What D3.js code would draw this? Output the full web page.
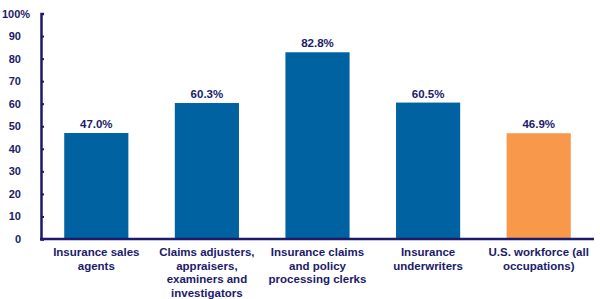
<!DOCTYPE html>
<html>
<head>
<meta charset="utf-8">
<script src="https://cdn.jsdelivr.net/npm/d3@7"></script>
<style>
  body { margin: 0; background: #fff; }
  text { font-family: "Liberation Sans", Arial, sans-serif; font-weight: bold; fill: #1b1a6b; }
</style>
</head>
<body>
<svg id="chart" width="600" height="299"></svg>
<script>
// 資料
const categories = [
  ["Insurance sales", "agents"],
  ["Claims adjusters,", "appraisers,", "examiners and", "investigators"],
  ["Insurance claims", "and policy", "processing clerks"],
  ["Insurance", "underwriters"],
  ["U.S. workforce (all", "occupations)"]
];
const values = [47.0, 60.3, 82.8, 60.5, 46.9];
const barColors = ["#0062a1", "#0062a1", "#0062a1", "#0062a1", "#f7984a"];
const yTicks = [0, 10, 20, 30, 40, 50, 60, 70, 80, 90, 100];

const svg = d3.select("#chart");
const navy = "#1b1a6b";

const x = d3.scaleBand()
  .domain(d3.range(values.length))
  .range([41, 594])
  .paddingInner(0.42)
  .paddingOuter(0.21);

const y = d3.scaleLinear().domain([0, 100]).range([239, 13.5]);

// 長條
svg.selectAll("rect.bar")
  .data(values)
  .enter()
  .append("rect")
  .attr("class", "bar")
  .attr("x", (d, i) => x(i))
  .attr("y", d => y(d))
  .attr("width", x.bandwidth())
  .attr("height", d => y(0) - y(d))
  .attr("fill", (d, i) => barColors[i]);

// 數值標籤
svg.selectAll("text.val")
  .data(values)
  .enter()
  .append("text")
  .attr("class", "val")
  .attr("x", (d, i) => x(i) + x.bandwidth() / 2)
  .attr("y", d => y(d) - 5)
  .attr("text-anchor", "middle")
  .style("font-size", "11.5px")
  .text(d => d.toFixed(1) + "%");

// Y 軸
const yAxis = d3.axisLeft(y)
  .tickValues(yTicks)
  .tickSize(-3)
  .tickPadding(20)
  .tickFormat(d => d);

const gy = svg.append("g")
  .attr("transform", "translate(41,0)")
  .call(yAxis);
gy.select(".domain").attr("stroke", navy).attr("stroke-width", 2.5);
gy.selectAll(".tick line").attr("stroke", navy).attr("stroke-width", 2);
gy.selectAll(".tick text")
  .style("font-size", "11px")
  .attr("fill", navy);
gy.selectAll(".tick")
  .filter(d => d === 100)
  .select("text")
  .append("tspan")
  .text("%");
gy.selectAll(".tick")
  .filter(d => d === 100)
  .select("text")
  .attr("text-anchor", "start")
  .attr("x", -39);

// X 軸基線
svg.append("line")
  .attr("x1", 40)
  .attr("x2", 594)
  .attr("y1", y(0))
  .attr("y2", y(0))
  .attr("stroke", navy)
  .attr("stroke-width", 2.5);

// 類別標籤
const cat = svg.selectAll("text.cat")
  .data(categories)
  .enter()
  .append("text")
  .attr("class", "cat")
  .attr("text-anchor", "middle")
  .style("font-size", "11.5px");

cat.selectAll("tspan")
  .data((d, i) => d.map(line => ({ line, i })))
  .enter()
  .append("tspan")
  .attr("x", d => x(d.i) + x.bandwidth() / 2)
  .attr("y", (d, j) => 256 + j * 13.5)
  .text(d => d.line);
</script>
</body>
</html>
